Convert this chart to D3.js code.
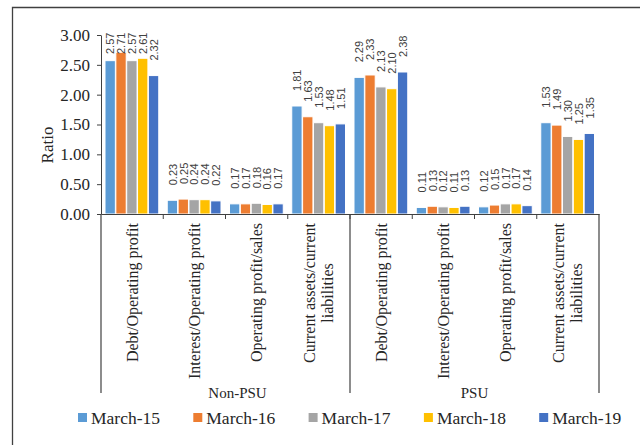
<!DOCTYPE html>
<html>
<head>
<meta charset="utf-8">
<script src="https://cdn.jsdelivr.net/npm/d3@7"></script>
<style>
  body { margin: 0; background: #fff; }
  .axis text { font-family: "Liberation Serif", serif; fill: #262626; }
  .axis path, .axis line { stroke: #404040; }
</style>
</head>
<body>
<div id="chart"></div>
<script>
var svgWidth = 640;
var svgHeight = 445;

// data
var groups = ["Non-PSU", "PSU"];
var ratios = ["Debt/Operating profit", "Interest/Operating profit", "Operating profit/sales", "Current assets/current liabilities"];
var seriesNames = ["March-15", "March-16", "March-17", "March-18", "March-19"];
var colors = ["#5B9BD5", "#ED7D31", "#A5A5A5", "#FFC000", "#4472C4"];
// values per series: Non-PSU (4 ratios) then PSU (4 ratios)
var march15 = [2.57, 0.23, 0.17, 1.81, 2.29, 0.11, 0.12, 1.53];
var march16 = [2.71, 0.25, 0.17, 1.63, 2.33, 0.13, 0.15, 1.49];
var march17 = [2.57, 0.24, 0.18, 1.53, 2.13, 0.12, 0.17, 1.30];
var march18 = [2.61, 0.24, 0.16, 1.48, 2.10, 0.11, 0.17, 1.25];
var march19 = [2.32, 0.22, 0.17, 1.51, 2.38, 0.13, 0.14, 1.35];
var yTicks = [0, 0.5, 1, 1.5, 2, 2.5, 3];

var seriesValues = [march15, march16, march17, march18, march19];

var serif = "'Liberation Serif', serif";
var plot = { left: 101, right: 599, top: 35, bottom: 214 };

var svg = d3.select("#chart")
    .append("svg")
    .attr("width", svgWidth)
    .attr("height", svgHeight);

// outer frame (only top and left edges visible)
svg.append("path")
    .attr("d", "M12.5,445 L12.5,7.5 L640,7.5")
    .attr("fill", "none")
    .attr("stroke", "#404040")
    .attr("stroke-width", 1.3);

// category keys
var keys = [];
groups.forEach(function(g) {
    ratios.forEach(function(r) { keys.push(g + "|" + r); });
});

var x0 = d3.scaleBand()
    .domain(keys)
    .range([plot.left, plot.right]);

var x1 = d3.scaleBand()
    .domain(seriesNames)
    .range([4, x0.bandwidth() - 4]);

var y = d3.scaleLinear()
    .domain([0, 3])
    .range([plot.bottom, plot.top]);

// y axis
var yAxis = svg.append("g")
    .attr("class", "axis")
    .attr("transform", `translate(${plot.left}, 0)`)
    .call(d3.axisLeft(y).tickValues(yTicks).tickFormat(d3.format(".2f")).tickSize(4).tickSizeOuter(0).tickPadding(7));
yAxis.selectAll("text").attr("font-size", "17px").attr("font-family", serif);

svg.append("text")
    .attr("transform", "translate(47, 145) rotate(-90)")
    .attr("text-anchor", "middle")
    .attr("dominant-baseline", "central")
    .attr("font-family", serif)
    .attr("font-size", "17px")
    .attr("fill", "#262626")
    .text("Ratio");

// bars
var rows = [];
keys.forEach(function(k, i) {
    seriesNames.forEach(function(s, j) {
        rows.push({ key: k, series: s, value: seriesValues[j][i], color: colors[j] });
    });
});

svg.append("g")
    .selectAll("rect")
    .data(rows)
    .enter()
    .append("rect")
    .attr("x", d => x0(d.key) + x1(d.series))
    .attr("y", d => y(d.value))
    .attr("width", x1.bandwidth() - 0.5)
    .attr("height", d => y(0) - y(d.value))
    .attr("fill", d => d.color)
    .attr("stroke", "#fff")
    .attr("stroke-width", 1);

// value labels, rotated, kept inside the plot area
var labelLen = 21;
svg.append("g")
    .selectAll("text")
    .data(rows)
    .enter()
    .append("text")
    .attr("transform", function(d) {
        var cx = x0(d.key) + x1(d.series) + x1.bandwidth() / 2;
        var by = Math.max(y(d.value) - 15, plot.top - 2 + labelLen);
        return `translate(${cx}, ${by}) rotate(-90)`;
    })
    .attr("text-anchor", "start")
    .attr("dominant-baseline", "central")
    .attr("font-family", "'Liberation Sans', sans-serif")
    .attr("font-size", "11px")
    .attr("fill", "#404040")
    .text(d => d3.format(".2f")(d.value));

// x axis line
svg.append("g")
    .attr("class", "axis")
    .attr("transform", `translate(0, ${plot.bottom})`)
    .call(d3.axisBottom(x0).tickSize(0).tickSizeOuter(0).tickFormat(""));

// short ticks between categories
var boundaries = keys.slice(1).map(k => x0(k));
svg.append("g")
    .selectAll("line")
    .data(boundaries)
    .enter()
    .append("line")
    .attr("x1", d => d).attr("x2", d => d)
    .attr("y1", plot.bottom).attr("y2", plot.bottom + 5)
    .attr("stroke", "#404040");

// long group separators
var groupEdges = [plot.left, x0(groups[1] + "|" + ratios[0]), plot.right];
svg.append("g")
    .selectAll("line")
    .data(groupEdges)
    .enter()
    .append("line")
    .attr("x1", d => d).attr("x2", d => d)
    .attr("y1", plot.bottom).attr("y2", 393)
    .attr("stroke", "#404040")
    .attr("stroke-width", 1.2);

// category labels (rotated, wrap long ones)
function wrapLabel(s) {
    if (s.length <= 26) return [s];
    var i = s.lastIndexOf(" ");
    return [s.slice(0, i), s.slice(i + 1)];
}

keys.forEach(function(k) {
    var lines = wrapLabel(k.split("|")[1]);
    var cx = x0(k) + x0.bandwidth() / 2;
    var g = svg.append("g")
        .attr("transform", `translate(${cx}, 223) rotate(-90)`);
    var texts = lines.map(function(line, i) {
        return g.append("text")
            .attr("y", (i - (lines.length - 1) / 2) * 18)
            .attr("dominant-baseline", "central")
            .attr("font-family", serif)
            .attr("font-size", "16px")
            .attr("fill", "#262626")
            .text(line);
    });
    var maxLen = d3.max(texts, t => t.node().getComputedTextLength());
    texts.forEach(function(t) {
        t.attr("x", -maxLen / 2).attr("text-anchor", "middle");
    });
});

// group labels
svg.append("g")
    .selectAll("text")
    .data(groups)
    .enter()
    .append("text")
    .attr("x", (d, i) => (groupEdges[i] + groupEdges[i + 1]) / 2 + (i === 0 ? 12 : 0))
    .attr("y", 393)
    .attr("text-anchor", "middle")
    .attr("dominant-baseline", "central")
    .attr("font-family", serif)
    .attr("font-size", "15px")
    .attr("fill", "#262626")
    .text(d => d);

// legend
var legend = svg.append("g")
    .selectAll("g")
    .data(seriesNames)
    .enter()
    .append("g")
    .attr("transform", (d, i) => `translate(${78 + i * 115.3}, 413)`);

legend.append("rect")
    .attr("width", 9)
    .attr("height", 9)
    .attr("fill", (d, i) => colors[i]);

legend.append("text")
    .attr("x", 13)
    .attr("y", 5)
    .attr("dominant-baseline", "central")
    .attr("font-family", serif)
    .attr("font-size", "17.5px")
    .attr("fill", "#262626")
    .text(d => d);
</script>
</body>
</html>
